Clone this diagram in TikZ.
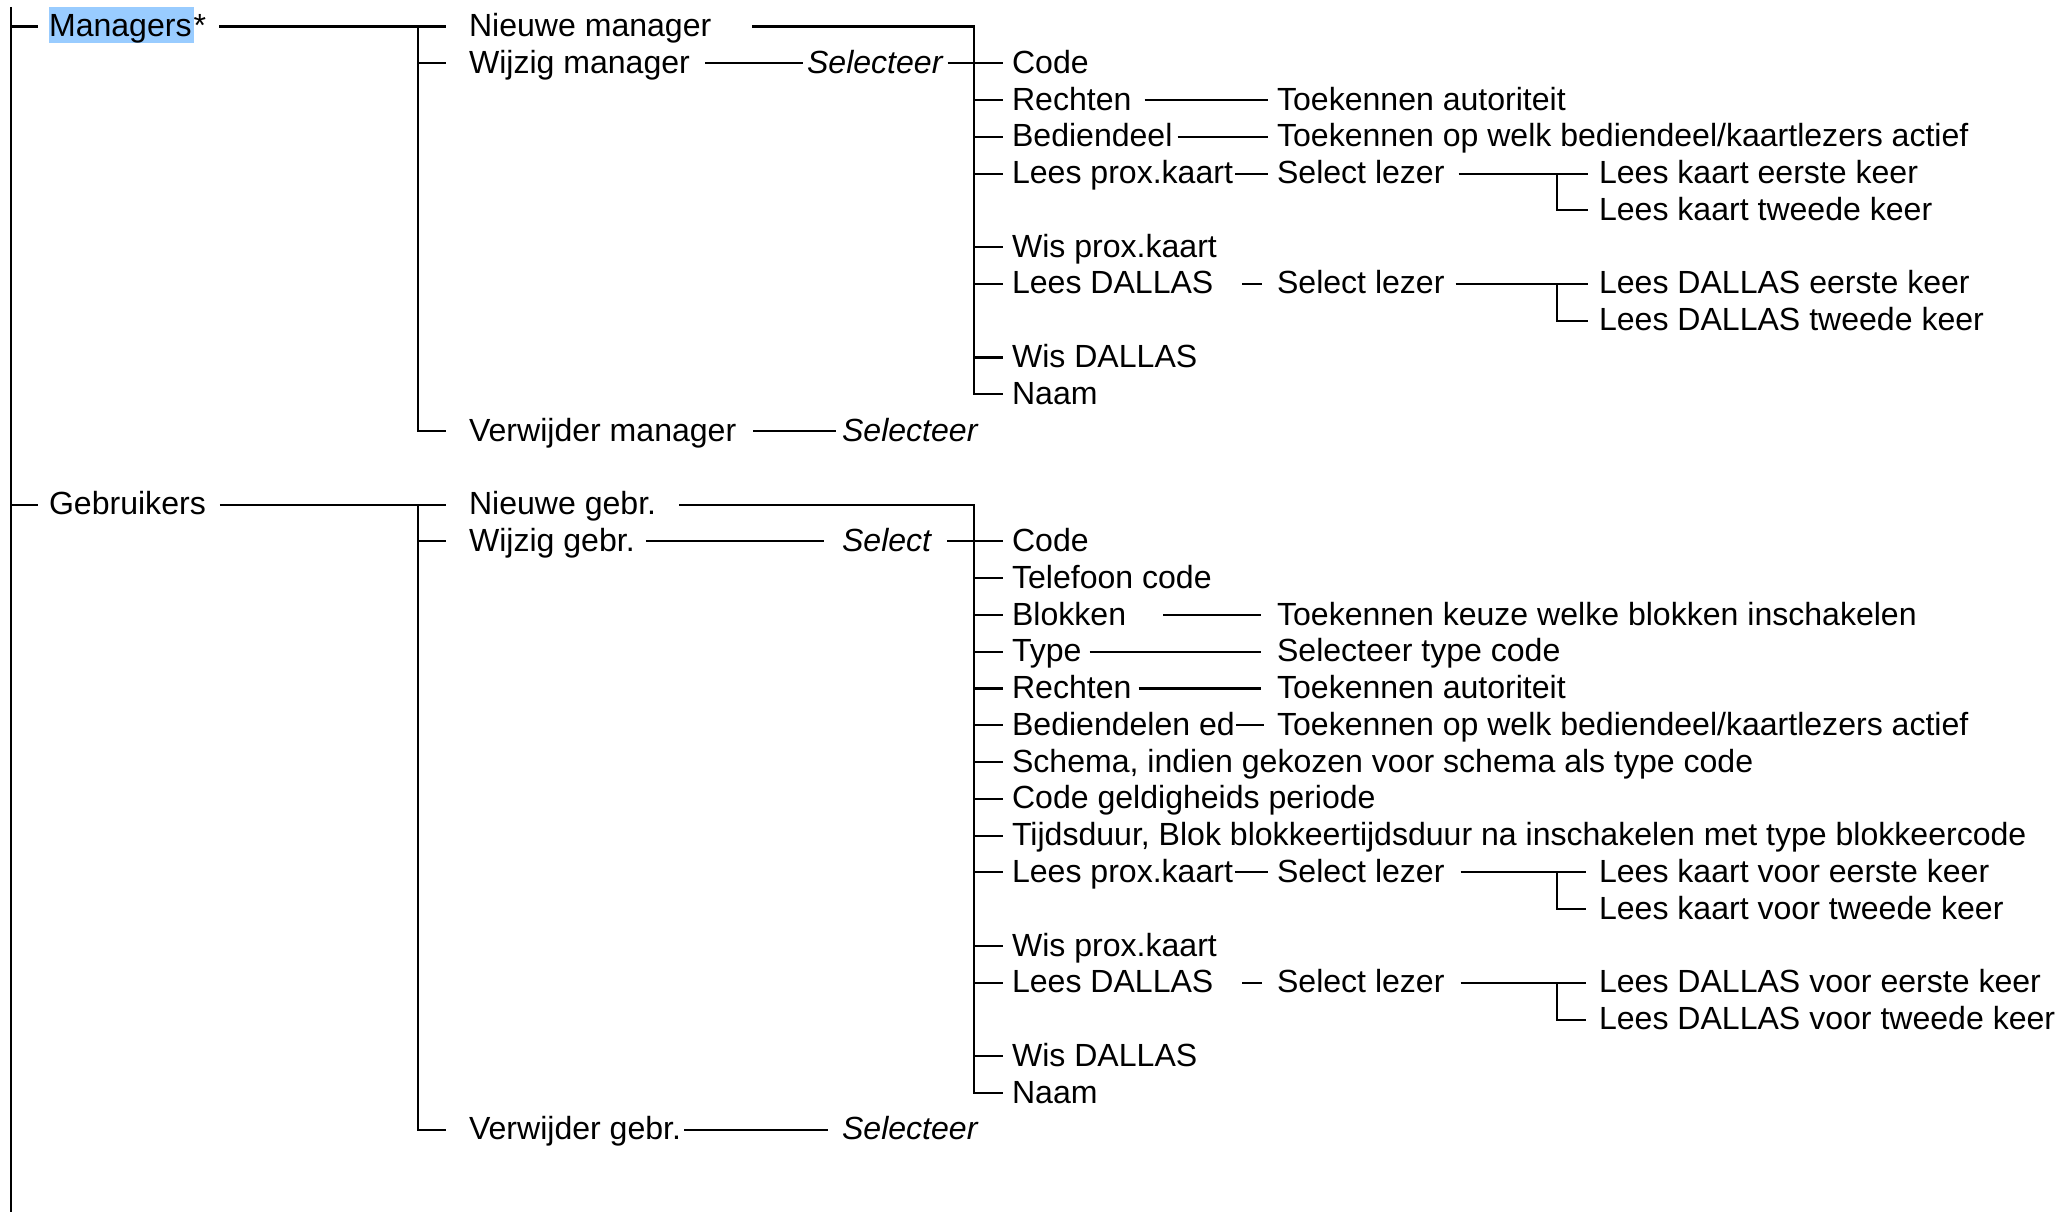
\documentclass[tikz,border=0pt]{standalone}
\usepackage{fontspec}
\setmainfont{Liberation Sans}
\usetikzlibrary{positioning}
\definecolor{hlblue}{HTML}{99CCFF}
\setlength{\fboxsep}{0pt}

\begin{document}
\begin{tikzpicture}[
  x=0.1mm, y=-0.1mm,
  line width=0.6pt,
  font=\fontsize{9.12pt}{10pt}\selectfont,
  item/.style={anchor=west, inner sep=0pt, text height=2mm, text depth=0pt},
  sel/.style={item, font=\fontsize{9.12pt}{10pt}\selectfont\itshape},
  tick/.style={shorten >=0.8mm},
]
\useasboundingbox (0,0) rectangle (2060,1212);
\coordinate (top) at (11,7);
\coordinate (bot) at (11,1212);
\coordinate (b1) at (418,0);
\coordinate (b2) at (974,0);
\coordinate (b3) at (1557,0);

% managers
\node[item] (mgr) at (48,26.5) {\colorbox{hlblue}{\rule[-0.65mm]{0pt}{3.6mm}Managers\hspace{0.2mm}}*};
\node[item] (mnew) at (468,26.5) {Nieuwe manager};
\node[item] (mmod) at (468,63.3) {Wijzig manager};
\node[sel] (mmodsel) at (806,63.3) {Selecteer};
\node[item] (mdel) at (468,431.1) {Verwijder manager};
\node[sel] (mdelsel) at (841,431.1) {Selecteer};
\node[item] (mcode) at (1011,63.3) {Code};
\node[item] (mrcht) at (1011,100.1) {Rechten};
\node[item] (mrchtb) at (1276,100.1) {Toekennen autoriteit};
\node[item] (mbed) at (1011,136.8) {Bediendeel};
\node[item] (mbedb) at (1276,136.8) {Toekennen op welk bediendeel/kaartlezers actief};
\node[item] (mprox) at (1011,173.6) {Lees prox.kaart};
\node[item] (mproxsel) at (1276,173.6) {Select lezer};
\node[item] (mprox1) at (1598,173.6) {Lees kaart eerste keer};
\node[item] (mprox2) at (1598,210.4) {Lees kaart tweede keer};
\node[item] (mwprox) at (1011,247.2) {Wis prox.kaart};
\node[item] (mdal) at (1011,284.0) {Lees DALLAS};
\node[item] (mdalsel) at (1276,284.0) {Select lezer};
\node[item] (mdal1) at (1598,284.0) {Lees DALLAS eerste keer};
\node[item] (mdal2) at (1598,320.7) {Lees DALLAS tweede keer};
\node[item] (mwdal) at (1011,357.5) {Wis DALLAS};
\node[item] (mnaam) at (1011,394.3) {Naam};

% gebruikers
\node[item] (gbr) at (48,504.6) {Gebruikers};
\node[item] (gnew) at (468,504.6) {Nieuwe gebr.};
\node[item] (gmod) at (468,541.4) {Wijzig gebr.};
\node[sel] (gmodsel) at (841,541.4) {Select};
\node[item] (gdel) at (468,1129.9) {Verwijder gebr.};
\node[sel] (gdelsel) at (841,1129.9) {Selecteer};
\node[item] (gcode) at (1011,541.4) {Code};
\node[item] (gtel) at (1011,578.2) {Telefoon code};
\node[item] (gblk) at (1011,615.0) {Blokken};
\node[item] (gblkb) at (1276,615.0) {Toekennen keuze welke blokken inschakelen};
\node[item] (gtype) at (1011,651.8) {Type};
\node[item] (gtypeb) at (1276,651.8) {Selecteer type code};
\node[item] (grcht) at (1011,688.5) {Rechten};
\node[item] (grchtb) at (1276,688.5) {Toekennen autoriteit};
\node[item] (gbed) at (1011,725.3) {Bediendelen ed};
\node[item] (gbedb) at (1276,725.3) {Toekennen op welk bediendeel/kaartlezers actief};
\node[item] (gsch) at (1011,762.1) {Schema, indien gekozen voor schema als type code};
\node[item] (ggeld) at (1011,798.9) {Code geldigheids periode};
\node[item] (gtijd) at (1011,835.7) {Tijdsduur, Blok blokkeertijdsduur na inschakelen met type blokkeercode};
\node[item] (gprox) at (1011,872.4) {Lees prox.kaart};
\node[item] (gproxsel) at (1276,872.4) {Select lezer};
\node[item] (gprox1) at (1598,872.4) {Lees kaart voor eerste keer};
\node[item] (gprox2) at (1598,909.2) {Lees kaart voor tweede keer};
\node[item] (gwprox) at (1011,946.0) {Wis prox.kaart};
\node[item] (gdal) at (1011,982.8) {Lees DALLAS};
\node[item] (gdalsel) at (1276,982.8) {Select lezer};
\node[item] (gdal1) at (1598,982.8) {Lees DALLAS voor eerste keer};
\node[item] (gdal2) at (1598,1019.6) {Lees DALLAS voor tweede keer};
\node[item] (gwdal) at (1011,1056.3) {Wis DALLAS};
\node[item] (gnaam) at (1011,1093.1) {Naam};

% trunk
\draw (top) -- (bot);
\draw[shorten >=1mm] (mgr.west -| top) -- (mgr.west);
\draw[shorten >=1mm] (gbr.west -| top) -- (gbr.west);

% managers lines
\draw[shorten <=1.2mm, shorten >=2.2mm] (mgr.east) -- (mnew.west);
\draw[shorten >=2.2mm] (mnew.west -| b1) |- (mdel.west);
\draw[shorten >=2.2mm] (mmod.west -| b1) -- (mmod.west);
\draw[shorten <=1.4mm, shorten >=0.3mm] (mmod.east) -- (mmodsel.west);
\draw[shorten <=0.4mm, shorten >=0.8mm] (mmodsel.east) -- (mcode.west);
\draw[shorten <=1.6mm, shorten >=0.5mm] (mdel.east) -- (mdelsel.west);
\draw[shorten <=4mm, shorten >=0.8mm] (mnew.east) -| (b2 |- mnaam.west) -- (mnaam.west);
\draw[tick] (mrcht.west -| b2) -- (mrcht.west);
\draw[tick] (mbed.west -| b2) -- (mbed.west);
\draw[tick] (mprox.west -| b2) -- (mprox.west);
\draw[tick] (mwprox.west -| b2) -- (mwprox.west);
\draw[tick] (mdal.west -| b2) -- (mdal.west);
\draw[tick] (mwdal.west -| b2) -- (mwdal.west);
\draw[shorten <=1.2mm, shorten >=0.8mm] (mrcht.east) -- (mrchtb.west);
\draw[shorten <=0.4mm, shorten >=0.8mm] (mbed.east) -- (mbedb.west);
\draw[shorten <=0.1mm, shorten >=0.8mm] (mprox.east) -- (mproxsel.west);
\draw[shorten <=2.8mm, shorten >=1.4mm] (mdal.east) -- (mdalsel.west);
\draw[shorten <=1.3mm, shorten >=1mm] (mproxsel.east) -- (mprox1.west);
\draw[shorten >=1mm] (mprox1.west -| b3) |- (mprox2.west);
\draw[shorten <=1mm, shorten >=1mm] (mdalsel.east) -- (mdal1.west);
\draw[shorten >=1mm] (mdal1.west -| b3) |- (mdal2.west);

% gebruikers lines
\draw[shorten <=1.3mm, shorten >=2.2mm] (gbr.east) -- (gnew.west);
\draw[shorten >=2.2mm] (gnew.west -| b1) |- (gdel.west);
\draw[shorten >=2.2mm] (gmod.west -| b1) -- (gmod.west);
\draw[shorten <=1mm, shorten >=1.7mm] (gmod.east) -- (gmodsel.west);
\draw[shorten <=1.5mm, shorten >=0.8mm] (gmodsel.east) -- (gcode.west);
\draw[shorten <=0.2mm, shorten >=1.3mm] (gdel.east) -- (gdelsel.west);
\draw[shorten <=2.2mm, shorten >=0.8mm] (gnew.east) -| (b2 |- gnaam.west) -- (gnaam.west);
\draw[tick] (gtel.west -| b2) -- (gtel.west);
\draw[tick] (gblk.west -| b2) -- (gblk.west);
\draw[tick] (gtype.west -| b2) -- (gtype.west);
\draw[tick] (grcht.west -| b2) -- (grcht.west);
\draw[tick] (gbed.west -| b2) -- (gbed.west);
\draw[tick] (gsch.west -| b2) -- (gsch.west);
\draw[tick] (ggeld.west -| b2) -- (ggeld.west);
\draw[tick] (gtijd.west -| b2) -- (gtijd.west);
\draw[tick] (gprox.west -| b2) -- (gprox.west);
\draw[tick] (gwprox.west -| b2) -- (gwprox.west);
\draw[tick] (gdal.west -| b2) -- (gdal.west);
\draw[tick] (gwdal.west -| b2) -- (gwdal.west);
\draw[shorten <=3.6mm, shorten >=1.5mm] (gblk.east) -- (gblkb.west);
\draw[shorten <=0.7mm, shorten >=1.5mm] (gtype.east) -- (gtypeb.west);
\draw[shorten <=0.6mm, shorten >=1.5mm] (grcht.east) -- (grchtb.west);
\draw[shorten >=1.2mm] (gbed.east) -- (gbedb.west);
\draw[shorten <=0.1mm, shorten >=0.8mm] (gprox.east) -- (gproxsel.west);
\draw[shorten <=2.8mm, shorten >=1.4mm] (gdal.east) -- (gdalsel.west);
\draw[shorten <=1.5mm, shorten >=1.2mm] (gproxsel.east) -- (gprox1.west);
\draw[shorten >=1.2mm] (gprox1.west -| b3) |- (gprox2.west);
\draw[shorten <=1.5mm, shorten >=1.2mm] (gdalsel.east) -- (gdal1.west);
\draw[shorten >=1.2mm] (gdal1.west -| b3) |- (gdal2.west);
\end{tikzpicture}
\end{document}
